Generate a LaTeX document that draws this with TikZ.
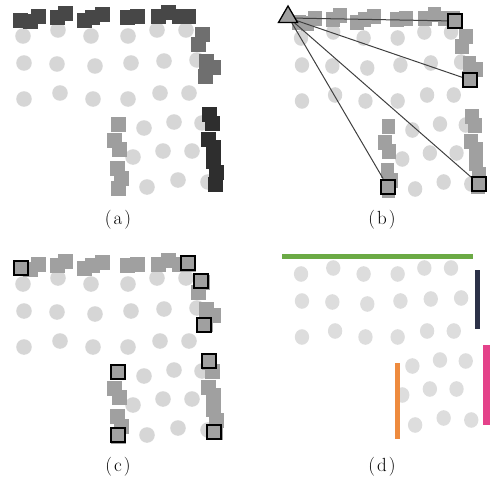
\documentclass[tikz,border=0pt]{standalone}
\usetikzlibrary{shapes.geometric}
\definecolor{circ}{HTML}{D6D6D6}
\definecolor{circd}{HTML}{DDDDDD}
\definecolor{sqtop}{HTML}{474747}
\definecolor{sqright}{HTML}{6F6F6F}
\definecolor{sqleft}{HTML}{9E9E9E}
\definecolor{sqdark}{HTML}{2E2E2E}
\definecolor{sqmid}{HTML}{A0A0A0}
\definecolor{lgreen}{HTML}{6BAA45}
\definecolor{lnavy}{HTML}{2C3148}
\definecolor{lorange}{HTML}{EE8B3E}
\definecolor{lpink}{HTML}{E4428A}
\newcommand\drawpanel[5]{%
  \foreach \x/\y in {23/36,58/30,91/36,128/36,157/30,186/30,
                     24/63,57/64,95/66,131/63,164/61,197/60,
                     24/99,60/93,93/99,128/99,160/93,189/93,
                     144/128,174/122,202/123,
                     133/157,163/151,192/151,
                     147/187,178/180,208/182}
    \fill[#1] (\x,\y) circle[radius=7.8];
  \foreach \x/\y in {20.5/20.5,30/21,38/16,57.5/17.5,65/13,84/20,92/17.5,102/14,
                     127/17,137/16,158/16,168/12.5,179/16,188/16}
    \fill[#2] (\x-7.5,\y-7.5) rectangle (\x+7.5,\y+7.5);
  \foreach \x/\y in {202/34,198/44,206/61,213/67,205/76}
    \fill[#3] (\x-7.5,\y-7.5) rectangle (\x+7.5,\y+7.5);
  \foreach \x/\y in {118/124,114/140,119/149,117/168,121/178,118/188}
    \fill[#4] (\x-7.5,\y-7.5) rectangle (\x+7.5,\y+7.5);
  \foreach \x/\y in {209/114,212/123,208/139,213/147,213/161,216/172,215/184}
    \fill[#5] (\x-7.5,\y-7.5) rectangle (\x+7.5,\y+7.5);
}
\newcommand\drawcircles[1]{%
  \foreach \x/\y in {23/36,58/30,91/36,128/36,157/30,186/30,
                     24/63,57/64,95/66,131/63,164/61,197/60,
                     24/99,60/93,93/99,128/99,160/93,189/93,
                     144/128,174/122,202/123,
                     133/157,163/151,192/151,
                     147/187,178/180,208/182}
    \fill[#1] (\x,\y) circle[radius=7.8];
}
\tikzset{
  outl/.style={draw=black, line width=1.6pt, fill=sqmid, minimum size=14pt, inner sep=0pt},
  tri/.style={regular polygon, regular polygon sides=3, draw=black, line width=1.3pt,
              fill=sqmid, minimum size=22pt, inner sep=0pt},
  ray/.style={draw=black!75, line width=1pt},
  lab/.style={font=\fontsize{19}{22}\selectfont, inner sep=0pt},
  seg/.style={line width=5pt}
}
\begin{document}
\begin{tikzpicture}[x=1pt,y=-1pt]
\useasboundingbox (0,0) rectangle (491,479);
% (a)
\drawpanel{circ}{sqtop}{sqright}{sqleft}{sqdark}
\node[lab] (la) at (118,220) {(\kern2pt a\kern2pt)};
% (b)
\begin{scope}[shift={(279.9,2)},xscale=0.92]
\drawpanel{circ}{sqmid}{sqmid}{sqmid}{sqmid}
\end{scope}
\coordinate (T) at (289,18);
\coordinate (b1) at (455,21);
\coordinate (b2) at (470,80);
\coordinate (b3) at (388,187);
\coordinate (b4) at (479,184);
\foreach \e in {b1,b2,b3,b4} \draw[ray] (T) -- (\e);
\foreach \e in {b1,b2,b3,b4} \node[outl] (N\e) at (\e) {};
\node[tri] (tri) at (288,17) {};
\node[lab] (lb) at (382,220) {(\kern2pt b\kern2pt)};
% (c)
\begin{scope}[shift={(0,248)}]
\drawpanel{circ}{sqmid}{sqmid}{sqmid}{sqmid}
\end{scope}
\foreach \n/\x/\y in {c1/21/268,c2/188/263,c3/201/281,c4/204/325,c5/209/361,
                      c6/118/372,c7/118/435,c8/214/432}
  \node[outl] (\n) at (\x,\y) {};
\node[lab] (lc) at (118,467) {(\kern2pt c\kern2pt)};
% (d)
\begin{scope}[shift={(279.9,238)},xscale=0.92]
\drawcircles{circd}
\end{scope}
\coordinate (g1) at (282,256.5); \coordinate (g2) at (473,256.5);
\coordinate (n1) at (477,270); \coordinate (n2) at (477,329);
\coordinate (o1) at (397,363); \coordinate (o2) at (397,439);
\coordinate (p1) at (486,345); \coordinate (p2) at (486,425);
\draw[seg, lgreen] (g1) -- (g2);
\draw[seg, lnavy] (n1) -- (n2);
\draw[seg, lorange] (o1) -- (o2);
\draw[line width=7pt, lpink] (p1) -- (p2);
\node[lab] (ld) at (382,467) {(\kern2pt d\kern2pt)};
\end{tikzpicture}
\end{document}
